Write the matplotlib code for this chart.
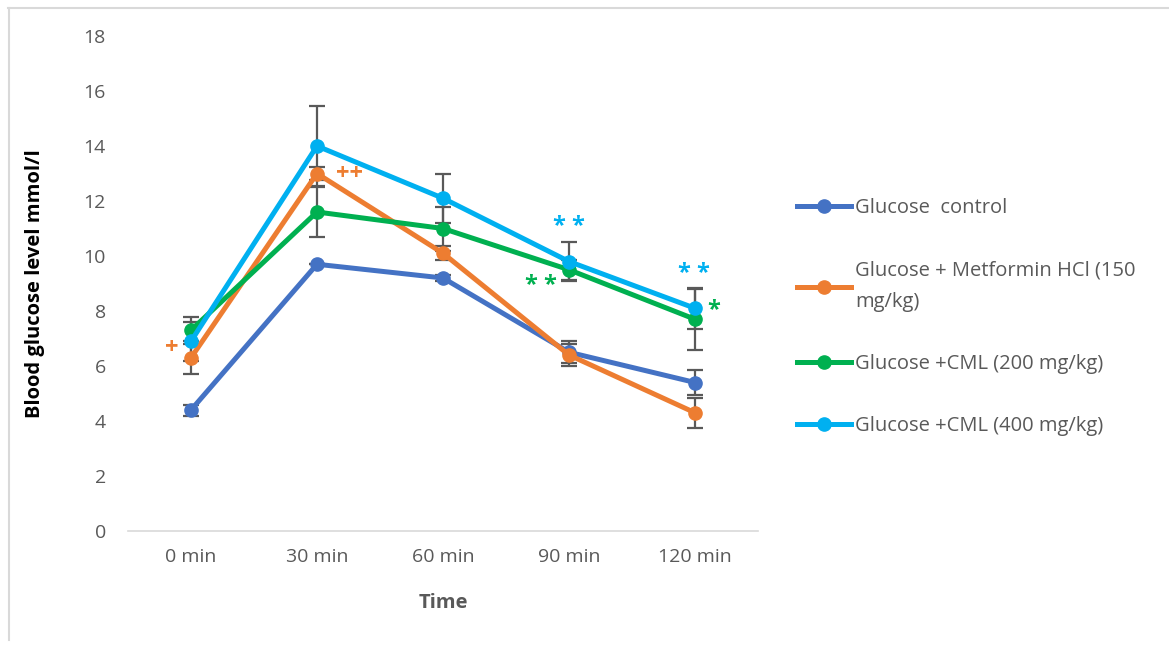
import matplotlib
matplotlib.use("Agg")
import matplotlib.pyplot as plt
from matplotlib.lines import Line2D

plt.rcParams['font.family'] = ['Open Sans', 'DejaVu Sans']

categories = ["0 min", "30 min", "60 min", "90 min", "120 min"]
labels = ["Glucose  control",
          "Glucose + Metformin HCl (150\nmg/kg)",
          "Glucose +CML (200 mg/kg)",
          "Glucose +CML (400 mg/kg)"]
control = [4.4, 9.7, 9.2, 6.5, 5.4]
metformin = [6.3, 13.0, 10.1, 6.4, 4.3]
cml200 = [7.3, 11.6, 11.0, 9.5, 7.7]
cml400 = [6.9, 14.0, 12.1, 9.8, 8.1]
control_err = [0.2, 0.0, 0.1, 0.4, 0.45]
metformin_err = [0.6, 0.25, 0.25, 0.4, 0.55]
cml200_err = [0.5, 0.9, 0.8, 0.37, 1.1]
cml400_err = [0.7, 1.45, 0.9, 0.7, 0.75]
colors = ["#4472C4", "#ED7D31", "#00B050", "#00B0F0"]

# significance annotations: (series index, category index, text, dx, dy)
marks = [
    (1, 0, "+", -0.15, 0.35),
    (1, 1, "++", 0.26, 0.0),
    (3, 3, "* *", 0.0, 1.25),
    (2, 3, "* *", -0.22, -0.6),
    (3, 4, "* *", -0.01, 1.25),
    (2, 4, "*", 0.15, 0.33),
]

fig = plt.figure(figsize=(11.69, 6.46), dpi=100)
W, H = 1169, 646
ax = fig.add_axes([128 / W, 1 - 531 / H, (758 - 128) / W, (531 - 36) / H])

series = [control, metformin, cml200, cml400]
errs = [control_err, metformin_err, cml200_err, cml400_err]
x = list(range(len(categories)))
handles = []
for s, e, c, lab in zip(series, errs, colors, labels):
    ax.errorbar(x, s, yerr=e, fmt="none", ecolor="#595959", elinewidth=1.6,
                capsize=6, capthick=1.6, zorder=2)
    h, = ax.plot(x, s, color=c, lw=3.6, marker="o", markersize=9.5,
                 label=lab, zorder=3)
    handles.append(h)

for si, ci, txt, dx, dy in marks:
    ax.text(x[ci] + dx, series[si][ci] + dy, txt, color=colors[si],
            fontsize=17, fontweight="bold", ha="center", va="center",
            zorder=5)

ax.set_xlim(-0.5, 4.5)
ax.set_ylim(0, 18)
ax.set_yticks(range(0, 19, 2))
ax.set_xticks(x)
ax.set_xticklabels(categories)
for sp in ["top", "right", "left"]:
    ax.spines[sp].set_visible(False)
ax.spines["bottom"].set_color("#d9d9d9")
ax.spines["bottom"].set_linewidth(1.2)
ax.tick_params(axis="both", length=0, labelsize=14, labelcolor="#595959")
ax.tick_params(axis="y", pad=16)
ax.tick_params(axis="x", pad=12)
ax.set_ylabel("Blood glucose level mmol/l", fontsize=14.5, fontweight="bold",
              color="black", labelpad=28)
ax.set_xlabel("Time", fontsize=14.5, fontweight="bold", color="#595959",
              labelpad=20)

leg = fig.legend(handles=handles, labels=labels, loc="upper left",
                 bbox_to_anchor=(789 / W, 1 - 190 / H), frameon=False,
                 fontsize=14.5, labelcolor="#595959", handlelength=2.7,
                 handletextpad=0.2, labelspacing=2.09, borderaxespad=0)
for t in leg.get_texts():
    t.set_linespacing(1.8)

# light gray frame around the chart area
fig.add_artist(Line2D([8 / W, 1], [1 - 7.5 / H, 1 - 7.5 / H],
                      color="#d9d9d9", lw=1.5, transform=fig.transFigure))
fig.add_artist(Line2D([8.5 / W, 8.5 / W], [1 - 7.5 / H, 1 - 640 / H],
                      color="#d9d9d9", lw=1.5, transform=fig.transFigure))

fig.savefig("out.png", dpi=100)
